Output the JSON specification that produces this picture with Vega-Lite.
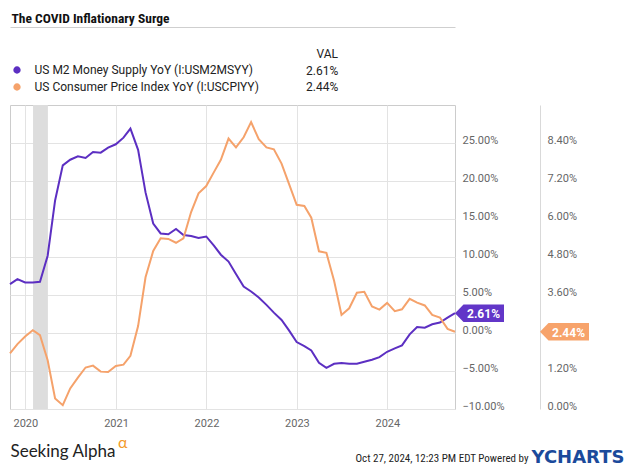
{
  "$schema": "https://vega.github.io/schema/vega-lite/v6.json",
  "width": 445,
  "height": 304,
  "autosize": {"type": "none"},
  "padding": {"left": 10, "top": 105, "right": 180, "bottom": 61},
  "background": "white",
  "config": {
    "view": {"stroke": "#cccccc", "strokeWidth": 1},
    "font": "Roboto",
    "axis": {"labelFont": "Roboto", "titleFont": "Roboto"},
    "legend": {"labelFont": "Roboto", "titleFont": "Roboto", "labelLimit": 0}
  },
  "datasets": {
    "rec": [{"start": "2020-02-01", "end": "2020-04-01"}],
    "last": [
      {"s": "M2", "d": "2024-09-30", "v": 2.61, "label": "2.61%"},
      {"s": "CPI", "d": "2024-09-30", "v": 2.44, "label": "2.44%"}
    ],
    "series": [
      {"d": "2019-10-31", "s": "M2", "v": 6.43}, {"d": "2019-11-30", "s": "M2", "v": 7.09}, {"d": "2019-12-31", "s": "M2", "v": 6.65},
      {"d": "2020-01-31", "s": "M2", "v": 6.65}, {"d": "2020-02-29", "s": "M2", "v": 6.74}, {"d": "2020-03-31", "s": "M2", "v": 10.17},
      {"d": "2020-04-30", "s": "M2", "v": 17.44}, {"d": "2020-05-31", "s": "M2", "v": 22.06}, {"d": "2020-06-30", "s": "M2", "v": 22.8},
      {"d": "2020-07-31", "s": "M2", "v": 23.25}, {"d": "2020-08-31", "s": "M2", "v": 23.03}, {"d": "2020-09-30", "s": "M2", "v": 23.82},
      {"d": "2020-10-31", "s": "M2", "v": 23.73}, {"d": "2020-11-30", "s": "M2", "v": 24.4}, {"d": "2020-12-31", "s": "M2", "v": 24.83},
      {"d": "2021-01-31", "s": "M2", "v": 25.7}, {"d": "2021-02-28", "s": "M2", "v": 26.9}, {"d": "2021-03-31", "s": "M2", "v": 24.1},
      {"d": "2021-04-30", "s": "M2", "v": 18.5}, {"d": "2021-05-31", "s": "M2", "v": 14.4}, {"d": "2021-06-30", "s": "M2", "v": 13.1},
      {"d": "2021-07-31", "s": "M2", "v": 13.0}, {"d": "2021-08-31", "s": "M2", "v": 13.7}, {"d": "2021-09-30", "s": "M2", "v": 12.9},
      {"d": "2021-10-31", "s": "M2", "v": 12.75}, {"d": "2021-11-30", "s": "M2", "v": 12.5}, {"d": "2021-12-31", "s": "M2", "v": 12.7},
      {"d": "2022-01-31", "s": "M2", "v": 11.5}, {"d": "2022-02-28", "s": "M2", "v": 10.3}, {"d": "2022-03-31", "s": "M2", "v": 9.4},
      {"d": "2022-04-30", "s": "M2", "v": 7.75}, {"d": "2022-05-31", "s": "M2", "v": 6.1}, {"d": "2022-06-30", "s": "M2", "v": 5.46},
      {"d": "2022-07-31", "s": "M2", "v": 4.67}, {"d": "2022-08-31", "s": "M2", "v": 3.7}, {"d": "2022-09-30", "s": "M2", "v": 2.68},
      {"d": "2022-10-31", "s": "M2", "v": 1.72}, {"d": "2022-11-30", "s": "M2", "v": 0.35}, {"d": "2022-12-31", "s": "M2", "v": -1.19},
      {"d": "2023-01-31", "s": "M2", "v": -1.72}, {"d": "2023-02-28", "s": "M2", "v": -2.29}, {"d": "2023-03-31", "s": "M2", "v": -3.92},
      {"d": "2023-04-30", "s": "M2", "v": -4.58}, {"d": "2023-05-31", "s": "M2", "v": -4.05}, {"d": "2023-06-30", "s": "M2", "v": -3.96},
      {"d": "2023-07-31", "s": "M2", "v": -4.05}, {"d": "2023-08-31", "s": "M2", "v": -4.05}, {"d": "2023-09-30", "s": "M2", "v": -3.79},
      {"d": "2023-10-31", "s": "M2", "v": -3.52}, {"d": "2023-11-30", "s": "M2", "v": -3.17}, {"d": "2023-12-31", "s": "M2", "v": -2.47},
      {"d": "2024-01-31", "s": "M2", "v": -2.03}, {"d": "2024-02-29", "s": "M2", "v": -1.63}, {"d": "2024-03-31", "s": "M2", "v": -0.18},
      {"d": "2024-04-30", "s": "M2", "v": 0.79}, {"d": "2024-05-31", "s": "M2", "v": 0.7}, {"d": "2024-06-30", "s": "M2", "v": 1.15},
      {"d": "2024-07-31", "s": "M2", "v": 1.37}, {"d": "2024-08-31", "s": "M2", "v": 2.03}, {"d": "2024-09-30", "s": "M2", "v": 2.61},
      {"d": "2019-10-31", "s": "CPI", "v": 1.76}, {"d": "2019-11-30", "s": "CPI", "v": 2.05}, {"d": "2019-12-31", "s": "CPI", "v": 2.29},
      {"d": "2020-01-31", "s": "CPI", "v": 2.49}, {"d": "2020-02-29", "s": "CPI", "v": 2.33}, {"d": "2020-03-31", "s": "CPI", "v": 1.54},
      {"d": "2020-04-30", "s": "CPI", "v": 0.33}, {"d": "2020-05-31", "s": "CPI", "v": 0.12}, {"d": "2020-06-30", "s": "CPI", "v": 0.65},
      {"d": "2020-07-31", "s": "CPI", "v": 0.99}, {"d": "2020-08-31", "s": "CPI", "v": 1.31}, {"d": "2020-09-30", "s": "CPI", "v": 1.37},
      {"d": "2020-10-31", "s": "CPI", "v": 1.18}, {"d": "2020-11-30", "s": "CPI", "v": 1.17}, {"d": "2020-12-31", "s": "CPI", "v": 1.36},
      {"d": "2021-01-31", "s": "CPI", "v": 1.4}, {"d": "2021-02-28", "s": "CPI", "v": 1.68}, {"d": "2021-03-31", "s": "CPI", "v": 2.62},
      {"d": "2021-04-30", "s": "CPI", "v": 4.16}, {"d": "2021-05-31", "s": "CPI", "v": 4.99}, {"d": "2021-06-30", "s": "CPI", "v": 5.39},
      {"d": "2021-07-31", "s": "CPI", "v": 5.37}, {"d": "2021-08-31", "s": "CPI", "v": 5.25}, {"d": "2021-09-30", "s": "CPI", "v": 5.39},
      {"d": "2021-10-31", "s": "CPI", "v": 6.22}, {"d": "2021-11-30", "s": "CPI", "v": 6.81}, {"d": "2021-12-31", "s": "CPI", "v": 7.04},
      {"d": "2022-01-31", "s": "CPI", "v": 7.48}, {"d": "2022-02-28", "s": "CPI", "v": 7.87}, {"d": "2022-03-31", "s": "CPI", "v": 8.54},
      {"d": "2022-04-30", "s": "CPI", "v": 8.26}, {"d": "2022-05-31", "s": "CPI", "v": 8.58}, {"d": "2022-06-30", "s": "CPI", "v": 9.06},
      {"d": "2022-07-31", "s": "CPI", "v": 8.52}, {"d": "2022-08-31", "s": "CPI", "v": 8.26}, {"d": "2022-09-30", "s": "CPI", "v": 8.2},
      {"d": "2022-10-31", "s": "CPI", "v": 7.75}, {"d": "2022-11-30", "s": "CPI", "v": 7.11}, {"d": "2022-12-31", "s": "CPI", "v": 6.45},
      {"d": "2023-01-31", "s": "CPI", "v": 6.41}, {"d": "2023-02-28", "s": "CPI", "v": 6.04}, {"d": "2023-03-31", "s": "CPI", "v": 4.98},
      {"d": "2023-04-30", "s": "CPI", "v": 4.93}, {"d": "2023-05-31", "s": "CPI", "v": 4.05}, {"d": "2023-06-30", "s": "CPI", "v": 2.97},
      {"d": "2023-07-31", "s": "CPI", "v": 3.18}, {"d": "2023-08-31", "s": "CPI", "v": 3.67}, {"d": "2023-09-30", "s": "CPI", "v": 3.7},
      {"d": "2023-10-31", "s": "CPI", "v": 3.24}, {"d": "2023-11-30", "s": "CPI", "v": 3.14}, {"d": "2023-12-31", "s": "CPI", "v": 3.35},
      {"d": "2024-01-31", "s": "CPI", "v": 3.09}, {"d": "2024-02-29", "s": "CPI", "v": 3.15}, {"d": "2024-03-31", "s": "CPI", "v": 3.48},
      {"d": "2024-04-30", "s": "CPI", "v": 3.36}, {"d": "2024-05-31", "s": "CPI", "v": 3.27}, {"d": "2024-06-30", "s": "CPI", "v": 2.97},
      {"d": "2024-07-31", "s": "CPI", "v": 2.89}, {"d": "2024-08-31", "s": "CPI", "v": 2.53}, {"d": "2024-09-30", "s": "CPI", "v": 2.44}
    ]
  },
  "layer": [
    {
      "data": {"name": "rec"},
      "mark": {"type": "rect", "color": "#dddddd"},
      "encoding": {
        "x": {
          "field": "start", "type": "temporal",
          "scale": {"type": "utc", "domain": [{"year": 2019, "month": 10, "date": 31, "utc": true}, {"year": 2024, "month": 9, "date": 30, "utc": true}]},
          "axis": {
            "orient": "top", "offset": 78, "domain": true, "domainColor": "#cfcfcf", "domainWidth": 1,
            "labels": false, "ticks": false, "grid": false,
            "title": "The COVID Inflationary Surge", "titleX": 1, "titleY": -5, "titleAlign": "left", "titleAnchor": "start",
            "titleBaseline": "alphabetic", "titleFontSize": 13.5, "titleFontWeight": "bold", "titleColor": "#111111",
            "titleFont": "Roboto Condensed, Liberation Sans Narrow, Roboto"
          }
        },
        "x2": {"field": "end"}
      }
    },
    {
      "layer": [
        {
          "data": {"name": "series"},
          "transform": [{"filter": "datum.s == 'M2'"}],
          "mark": {"type": "line", "strokeWidth": 2},
          "encoding": {
            "x": {
              "field": "d", "type": "temporal",
              "scale": {"type": "utc", "domain": [{"year": 2019, "month": 10, "date": 31, "utc": true}, {"year": 2024, "month": 9, "date": 30, "utc": true}]},
              "axis": {
                "orient": "bottom", "format": "%Y", "tickCount": {"interval": "year", "step": 1},
                "grid": true, "gridColor": "#e3e3e3", "ticks": false, "domain": false, "labelFlush": false,
                "labelPadding": 8, "labelFontSize": 11, "labelColor": "#666666",
                "title": "Seeking Alpha", "titleX": 0, "titleY": 47.7, "titleAlign": "left", "titleAnchor": "start",
                "titleBaseline": "alphabetic", "titleFontSize": 17, "titleFontWeight": "normal", "titleColor": "#222222", "titleFont": "Lato"
              }
            },
            "y": {
              "field": "v", "type": "quantitative",
              "scale": {"domain": [-10, 30], "nice": false, "zero": false},
              "axis": {
                "orient": "right", "values": [-10, -5, 0, 5, 10, 15, 20, 25],
                "labelExpr": "format(datum.value, '.2f') + '%'",
                "grid": true, "gridColor": "#e3e3e3", "ticks": false, "domain": false, "labelFlush": false,
                "labelPadding": 7, "labelBaseline": "alphabetic", "labelAlign": "left", "labelFontSize": 11, "labelColor": "#666666",
                "title": "Oct 27, 2024, 12:23 PM EDT Powered by", "titleAngle": 0, "titleX": -100, "titleY": 356.7,
                "titleAlign": "left", "titleBaseline": "alphabetic", "titleFontSize": 11, "titleFontWeight": "normal",
                "titleColor": "#222222", "titleFont": "Roboto Condensed, Liberation Sans Narrow, Roboto"
              }
            },
            "color": {
              "field": "s", "type": "nominal",
              "scale": {"domain": ["M2", "CPI"], "range": ["#5c2fc2", "#f5a26b"]},
              "legend": {
                "orient": "none", "legendX": 1, "legendY": -41, "title": null, "direction": "vertical",
                "symbolType": "circle", "symbolSize": 14, "symbolStrokeWidth": 3.6,
                "labelFontSize": 12, "labelColor": "#222222", "labelOffset": 11.5, "rowPadding": -3, "padding": 0, "labelLimit": 0,
                "labelExpr": "datum.label == 'M2' ? 'US M2 Money Supply YoY (I:USM2MSYY)' : 'US Consumer Price Index YoY (I:USCPIYY)'"
              }
            }
          }
        },
        {
          "data": {"name": "last"},
          "transform": [{"filter": "datum.s == 'M2'"}],
          "mark": {"type": "point", "shape": "M0,0L0.34,-0.35L1.96,-0.35L1.96,0.35L0.34,0.35Z", "size": 2500, "filled": true, "fill": "#6236c8", "opacity": 1, "strokeWidth": 0},
          "encoding": {
            "x": {"field": "d", "type": "temporal"},
            "y": {"field": "v", "type": "quantitative"},
            "strokeDash": {
              "field": "label", "type": "nominal",
              "scale": {"domain": ["2.61%", "2.44%"], "range": [[1, 0], [1, 0]]},
              "legend": {
                "orient": "none", "legendX": 284, "legendY": -56.5, "title": "VAL", "titleFontSize": 12,
                "titleFontWeight": "normal", "titleColor": "#222222", "titleAnchor": "end", "titlePadding": 4,
                "symbolSize": 0, "symbolOpacity": 0, "symbolStrokeWidth": 0, "labelOffset": 0,
                "labelFontSize": 12, "labelColor": "#222222", "rowPadding": 4, "padding": 0
              }
            }
          }
        },
        {
          "data": {"name": "last"},
          "transform": [{"filter": "datum.s == 'M2'"}],
          "mark": {"type": "text", "color": "white", "fontWeight": "bold", "fontSize": 12, "align": "center", "baseline": "middle", "dx": 28.5, "dy": 1},
          "encoding": {
            "x": {"field": "d", "type": "temporal"},
            "y": {"field": "v", "type": "quantitative"},
            "text": {"field": "label"}
          }
        }
      ]
    },
    {
      "layer": [
        {
          "data": {"name": "series"},
          "transform": [{"filter": "datum.s == 'CPI'"}],
          "mark": {"type": "line", "strokeWidth": 2},
          "encoding": {
            "x": {
              "field": "d", "type": "temporal",
              "scale": {"type": "utc", "domain": [{"year": 2019, "month": 10, "date": 31, "utc": true}, {"year": 2024, "month": 9, "date": 30, "utc": true}]},
              "axis": {
                "orient": "bottom", "labels": false, "grid": false, "ticks": false, "domain": false,
                "title": "α", "titleX": 107.5, "titleY": 38, "titleAlign": "left", "titleAnchor": "start",
                "titleBaseline": "alphabetic", "titleFontSize": 16, "titleFontWeight": "normal", "titleColor": "#f39a2b", "titleFont": "Lato"
              }
            },
            "y": {
              "field": "v", "type": "quantitative",
              "scale": {"domain": [0, 9.6], "nice": false, "zero": false},
              "axis": {
                "orient": "right", "offset": 85, "values": [0, 1.2, 3.6, 4.8, 6, 7.2, 8.4],
                "labelExpr": "format(datum.value, '.2f') + '%'",
                "grid": false, "ticks": false, "domain": true, "domainColor": "#d9d9d9", "labelFlush": false,
                "labelPadding": 7, "labelBaseline": "alphabetic", "labelAlign": "left", "labelFontSize": 11, "labelColor": "#666666",
                "title": "YCHARTS", "titleAngle": 0, "titleX": -9, "titleY": 357.7, "titleAlign": "left", "titleBaseline": "alphabetic",
                "titleFontSize": 18, "titleFontWeight": "bold", "titleColor": "#1b4a9b", "titleFont": "DejaVu Sans"
              }
            },
            "color": {
              "field": "s", "type": "nominal",
              "legend": {
                "orient": "none", "legendX": 1, "legendY": -41, "title": null, "direction": "vertical",
                "symbolType": "circle", "symbolSize": 14, "symbolStrokeWidth": 3.6,
                "labelFontSize": 12, "labelColor": "#222222", "labelOffset": 11.5, "rowPadding": -3, "padding": 0, "labelLimit": 0,
                "labelExpr": "datum.label == 'M2' ? 'US M2 Money Supply YoY (I:USM2MSYY)' : 'US Consumer Price Index YoY (I:USCPIYY)'"
              }
            }
          }
        },
        {
          "data": {"name": "last"},
          "transform": [{"filter": "datum.s == 'CPI'"}],
          "mark": {"type": "point", "shape": "M0,0L0.34,-0.35L1.96,-0.35L1.96,0.35L0.34,0.35Z", "size": 2500, "filled": true, "fill": "#f7a36b", "opacity": 1, "strokeWidth": 0, "xOffset": 85},
          "encoding": {
            "x": {"field": "d", "type": "temporal"},
            "y": {"field": "v", "type": "quantitative"},
            "strokeDash": {"field": "label", "type": "nominal"}
          }
        },
        {
          "data": {"name": "last"},
          "transform": [{"filter": "datum.s == 'CPI'"}],
          "mark": {"type": "text", "color": "white", "fontWeight": "bold", "fontSize": 12, "align": "center", "baseline": "middle", "dx": 28.5, "dy": 1, "xOffset": 85},
          "encoding": {
            "x": {"field": "d", "type": "temporal"},
            "y": {"field": "v", "type": "quantitative"},
            "text": {"field": "label"}
          }
        }
      ]
    }
  ],
  "resolve": {"scale": {"x": "independent", "y": "independent"}}
}
